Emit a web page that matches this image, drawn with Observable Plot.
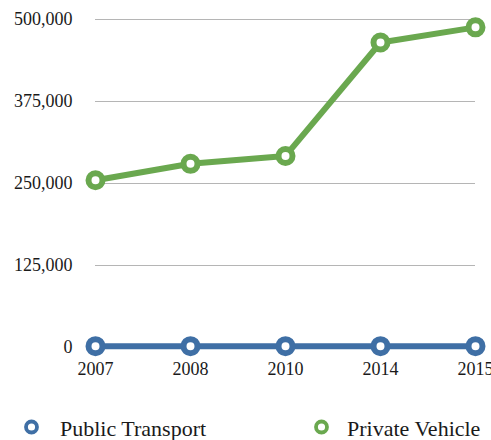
<!DOCTYPE html>
<html>
<head>
<meta charset="utf-8">
<script src="https://cdn.jsdelivr.net/npm/d3@7"></script>
<script src="https://cdn.jsdelivr.net/npm/@observablehq/plot@0.6"></script>
<style>
  html, body { margin: 0; padding: 0; background: #fff; }
  #chart { position: relative; width: 491px; height: 440px; overflow: hidden; font-family: "Liberation Serif", "Times New Roman", serif; }
  #legend { position: absolute; left: 0; top: 390px; }
</style>
</head>
<body>
<div id="chart"></div>
<script>
const years = ["2007", "2008", "2010", "2014", "2015"];
const seriesNames = ["Public Transport", "Private Vehicle"];
const publicTransport = [2000, 2000, 2000, 2000, 2000];
const privateVehicle = [255000, 280000, 292000, 465000, 488000];
const yTicks = [0, 125000, 250000, 375000, 500000];
const colors = ["#3f6fa5", "#6aa84f"];

const rows = [];
years.forEach((y, i) => {
  rows.push({year: y, series: seriesNames[0], value: publicTransport[i]});
  rows.push({year: y, series: seriesNames[1], value: privateVehicle[i]});
});

const plot = Plot.plot({
  width: 491,
  height: 390,
  marginLeft: 95,
  marginRight: 16,
  marginTop: 19,
  marginBottom: 43,
  style: {fontFamily: "'Liberation Serif', 'Times New Roman', serif", fontSize: "18px", color: "#1a1a1a", background: "transparent"},
  x: {type: "point", domain: years, padding: 0, label: null},
  y: {domain: [0, 500000], label: null},
  color: {domain: seriesNames, range: colors},
  marks: [
    Plot.gridY(yTicks, {stroke: "#b5b5b5", strokeOpacity: 1, strokeWidth: 1.2}),
    Plot.axisY(yTicks, {tickSize: 0, tickPadding: 23, tickFormat: d3.format(","), label: null, fill: "#1a1a1a"}),
    Plot.axisX({tickSize: 0, tickPadding: 15, label: null, fill: "#1a1a1a"}),
    Plot.line(rows, {x: "year", y: "value", z: "series", stroke: "series", strokeWidth: 6}),
    Plot.dot(rows, {x: "year", y: "value", stroke: "series", fill: "white", r: 7, strokeWidth: 6})
  ]
});

const chart = document.getElementById("chart");
chart.appendChild(plot);

// legend below the plot
const markerX = [31.5, 321.5];
const textX = [60, 347];
const svgNS = "http://www.w3.org/2000/svg";
const leg = document.createElementNS(svgNS, "svg");
leg.setAttribute("id", "legend");
leg.setAttribute("width", "491");
leg.setAttribute("height", "50");
seriesNames.forEach((name, i) => {
  const c = document.createElementNS(svgNS, "circle");
  c.setAttribute("cx", markerX[i]);
  c.setAttribute("cy", 37);
  c.setAttribute("r", 5.5);
  c.setAttribute("fill", "white");
  c.setAttribute("stroke", colors[i]);
  c.setAttribute("stroke-width", 3.8);
  leg.appendChild(c);
  const t = document.createElementNS(svgNS, "text");
  t.setAttribute("x", textX[i]);
  t.setAttribute("y", 46);
  t.setAttribute("font-family", "'Liberation Serif', 'Times New Roman', serif");
  t.setAttribute("font-size", "22");
  t.setAttribute("fill", "#1a1a1a");
  t.textContent = name;
  leg.appendChild(t);
});
chart.appendChild(leg);
</script>
</body>
</html>
